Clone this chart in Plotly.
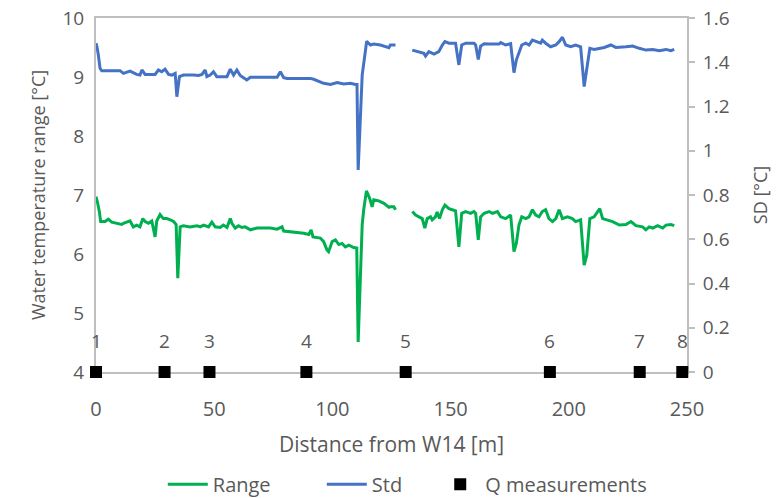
import plotly.graph_objects as go

# Temperature range along the stream (left axis, °C)
range_dist = [0, 0.56, 1.41, 1.98, 3.81, 5.23, 6.64, 8.76, 10.9, 11.6, 14.4, 15.8, 17.2, 18.6,
              19.8, 20.8, 22.2, 23.6, 24.3, 25.0, 25.7, 27.1, 28.5, 29.9, 31.4, 32.8, 33.9,
              34.6, 35.6, 37.0, 39.8, 42.7, 44.1, 45.5, 47.6, 49.0, 50.4, 52.5, 53.9, 55.4,
              56.8, 57.5, 58.9, 60.3, 61.7, 63.1, 65.3, 68.1, 70.9, 73.7, 76.6, 78.7, 79.4,
              82.2, 85.0, 87.9, 90.0, 91.0, 91.8, 94.9, 96.3, 97.7, 98.4, 99.9, 101.3, 102.7,
              104.1, 105.5, 107.0, 109.0, 110.3, 110.9, 112.6, 113.3, 114.4, 115.8, 116.8,
              117.5, 119.6, 121.8, 123.9, 124.5, 126.0, 126.7, 130.0,
              133.8, 135.2, 136.6, 138.0, 139.1, 140.1, 141.5, 142.2, 143.6, 144.3, 145.3,
              146.5, 147.6, 149.3, 150.7, 152.1, 153.5, 154.7, 156.4, 158.5, 159.9, 160.6,
              161.7, 162.7, 164.2, 166.3, 167.7, 169.8, 171.2, 173.3, 175.4, 176.8, 177.8,
              178.9, 180.1, 181.8, 183.2, 184.6, 186.0, 187.4, 188.8, 190.2, 191.6, 193.1,
              194.5, 195.9, 197.3, 199.4, 201.5, 202.9, 205.0, 206.5, 207.6, 208.9, 210.7,
              212.1, 213.1, 214.3, 216.4, 218.5, 221.4, 224.2, 226.3, 228.4, 231.2, 232.6,
              234.0, 235.5, 237.6, 239.7, 241.1, 243.2, 244.6]
range_vals = [6.97, 6.89, 6.72, 6.55, 6.55, 6.59, 6.54, 6.52, 6.50, 6.52, 6.56, 6.46, 6.49, 6.46,
              6.60, 6.55, 6.52, 6.56, 6.44, 6.29, 6.56, 6.67, 6.60, 6.60, 6.58, 6.55, 6.50,
              5.59, 6.46, 6.48, 6.46, 6.48, 6.46, 6.49, 6.46, 6.54, 6.46, 6.45, 6.49, 6.45,
              6.60, 6.52, 6.44, 6.48, 6.45, 6.46, 6.41, 6.44, 6.44, 6.44, 6.42, 6.46, 6.39,
              6.38, 6.36, 6.35, 6.33, 6.41, 6.29, 6.27, 6.21, 6.07, 6.04, 6.21, 6.24, 6.16,
              6.18, 6.12, 6.15, 6.11, 6.10, 4.51, 6.50, 6.77, 7.07, 6.94, 6.80,
              6.92, 6.90, 6.86, 6.79, 6.80, 6.80, 6.75, None,
              6.72, 6.66, 6.63, 6.60, 6.44, 6.60, 6.63, 6.58, 6.63, 6.71, 6.60,
              6.75, 6.83, 6.77, 6.75, 6.73, 6.12, 6.69, 6.72, 6.69, 6.72, 6.69,
              6.24, 6.63, 6.69, 6.72, 6.69, 6.72, 6.63, 6.60, 6.66, 6.04, 6.18,
              6.49, 6.63, 6.60, 6.63, 6.75, 6.66, 6.63, 6.72, 6.75, 6.60, 6.55,
              6.60, 6.75, 6.60, 6.63, 6.60, 6.55, 6.58, 5.81, 5.98, 6.60, 6.63,
              6.72, 6.77, 6.60, 6.58, 6.55, 6.49, 6.50, 6.55, 6.48, 6.46, 6.41,
              6.46, 6.44, 6.48, 6.44, 6.49, 6.50, 6.48]

# Standard deviation along the stream (right axis, °C)
std_dist = [0, 0.4, 1.0, 1.7, 2.4, 10.2, 11.6, 14.4, 17.2, 18.6, 19.4, 20.8, 25.0, 26.4, 27.8,
            29.2, 30.7, 32.1, 33.5, 34.2, 35.3, 37.0, 41.2, 43.4, 44.8, 46.2, 46.9, 48.3,
            49.7, 51.1, 52.5, 55.4, 56.8, 58.2, 59.6, 61.0, 62.4, 63.8, 65.3, 76.6, 78.0,
            79.4, 80.8, 90.7, 92.1, 96.3, 99.2, 102.0, 104.8, 107.6, 109.8, 110.4, 110.9,
            112.6, 114.5, 116.1, 117.5, 120.3, 123.9, 124.5, 126.7, 130.0,
            133.8, 136.6, 138.7, 139.4, 140.8, 143.0, 145.0, 146.5, 147.6, 149.3, 152.1,
            153.5, 154.7, 156.4, 159.9, 160.6, 161.7, 162.7, 164.2, 166.3, 170.5, 171.2,
            173.3, 175.4, 176.8, 177.8, 178.9, 180.1, 181.8, 183.2, 184.6, 186.7, 188.1,
            188.8, 190.2, 192.3, 194.5, 195.9, 197.3, 198.7, 200.8, 202.9, 205.0, 206.5,
            207.9, 208.9, 210.7, 212.8, 215.0, 217.8, 219.9, 224.2, 227.0, 229.8, 232.6,
            235.5, 238.3, 241.1, 243.2, 244.6]
std_vals = [1.486, 1.470, 1.433, 1.373, 1.362, 1.362, 1.350, 1.360, 1.345, 1.342, 1.365, 1.345,
            1.345, 1.365, 1.357, 1.369, 1.345, 1.342, 1.350, 1.244, 1.335, 1.342, 1.342, 1.340,
            1.345, 1.365, 1.335, 1.342, 1.357, 1.335, 1.335, 1.335, 1.369, 1.342, 1.365, 1.340,
            1.330, 1.320, 1.332, 1.332, 1.357, 1.330, 1.327, 1.327, 1.323, 1.305, 1.300, 1.308,
            1.302, 1.305, 1.300, 1.300, 0.913, 1.342, 1.495, 1.478, 1.482, 1.478, 1.466, 1.478,
            1.478, None,
            1.455, 1.448, 1.440, 1.428, 1.448, 1.437, 1.448, 1.478, 1.493, 1.486, 1.486,
            1.388, 1.478, 1.486, 1.486, 1.478, 1.413, 1.473, 1.484, 1.482, 1.482, 1.489,
            1.478, 1.484, 1.353, 1.410, 1.440, 1.478, 1.486, 1.478, 1.500, 1.493, 1.486,
            1.500, 1.486, 1.470, 1.478, 1.493, 1.513, 1.478, 1.470, 1.478, 1.470, 1.290,
            1.395, 1.463, 1.458, 1.463, 1.467, 1.478, 1.467, 1.470, 1.473, 1.463, 1.455,
            1.458, 1.452, 1.458, 1.452, 1.458]

# Discharge measurement stations
q_dist = [0, 29, 48, 89, 131, 192, 230, 248]
q_labels = ["1", "2", "3", "4", "5", "6", "7", "8"]
q_level = [4, 4, 4, 4, 4, 4, 4, 4]

x_ticks = [0, 50, 100, 150, 200, 250]
left_ticks = [4, 5, 6, 7, 8, 9, 10]
right_ticks = [0, 0.2, 0.4, 0.6, 0.8, 1.0, 1.2, 1.4, 1.6]
right_ticktext = ["0", "0.2", "0.4", "0.6", "0.8", "1", "1.2", "1.4", "1.6"]

FONT = "Open Sans"
TXT = "#595959"
AXC = "#BFBFBF"

fig = go.Figure()
fig.add_trace(go.Scatter(x=range_dist, y=range_vals, name="Range", mode="lines",
                         line=dict(color="#00B050", width=3), connectgaps=False))
fig.add_trace(go.Scatter(x=std_dist, y=std_vals, name="Std", mode="lines", yaxis="y2",
                         line=dict(color="#4472C4", width=3), connectgaps=False))
fig.add_trace(go.Scatter(x=q_dist, y=q_level, name="Q measurements", mode="markers",
                         marker=dict(symbol="square", size=12, color="black"),
                         cliponaxis=False, legend="legend2"))

for d, lab in zip(q_dist, q_labels):
    fig.add_annotation(x=d, y=4, text=lab, showarrow=False, yshift=31,
                       font=dict(family=FONT, size=19, color=TXT))

legend_font = dict(family=FONT, size=20, color=TXT)

fig.update_layout(
    width=777, height=498,
    margin=dict(l=96, r=90, t=18, b=126, autoexpand=False),
    paper_bgcolor="white", plot_bgcolor="white",
    font=dict(family=FONT, size=19, color=TXT),
    showlegend=True,
    legend=dict(orientation="h", x=0.113, xanchor="left", y=-0.317, yanchor="middle",
                font=legend_font, traceorder="normal", itemwidth=40, entrywidth=104),
    legend2=dict(orientation="h", x=0.574, xanchor="left", y=-0.317, yanchor="middle",
                 font=legend_font, itemwidth=40),
    xaxis=dict(range=[0, 250], tickvals=x_ticks, showgrid=False, zeroline=False,
               showline=True, linecolor=AXC, linewidth=2, mirror=True, ticks="",
               layer="below traces", ticklabelstandoff=18,
               tickfont=dict(family=FONT, size=20, color=TXT),
               title=dict(text="Distance from W14 [m]", standoff=16,
                          font=dict(family=FONT, size=21, color=TXT))),
    yaxis=dict(range=[4, 10], tickvals=left_ticks, showgrid=False, zeroline=False,
               showline=True, linecolor=AXC, linewidth=2, ticks="",
               layer="below traces", ticklabelstandoff=6,
               tickfont=dict(family=FONT, size=19, color=TXT),
               title=dict(text="Water temperature range [°C]", standoff=12,
                          font=dict(family=FONT, size=18, color=TXT))),
    yaxis2=dict(range=[0, 1.6], tickvals=right_ticks, ticktext=right_ticktext,
                overlaying="y", side="right", showgrid=False, zeroline=False,
                showline=True, linecolor=AXC, linewidth=2, ticks="outside",
                layer="below traces",
                ticklen=6, tickcolor=AXC, tickwidth=2, ticklabelstandoff=4,
                tickfont=dict(family=FONT, size=19, color=TXT),
                title=dict(text="SD [°C]", standoff=26,
                           font=dict(family=FONT, size=18, color=TXT))),
)

fig.write_html("out.html")
